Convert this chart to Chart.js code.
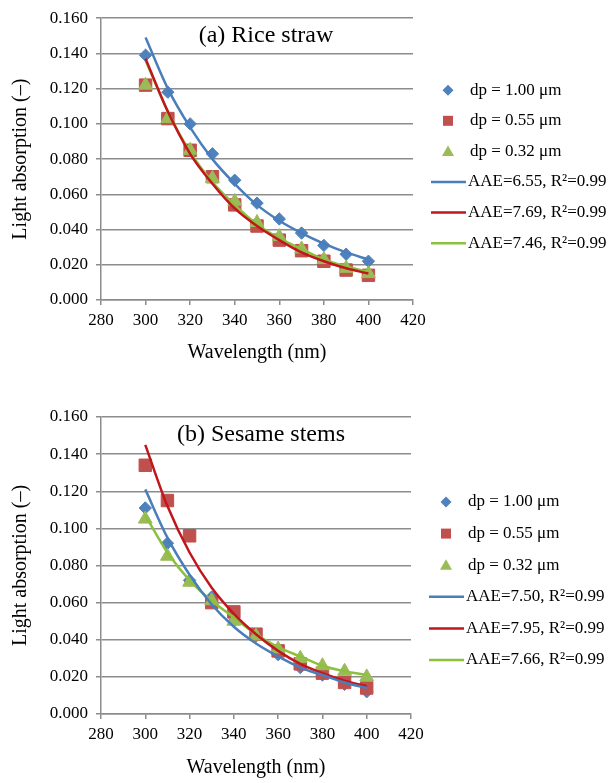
<!DOCTYPE html>
<html>
<head>
<meta charset="utf-8">
<script src="https://cdn.jsdelivr.net/npm/chart.js@4.4.1/dist/chart.umd.min.js"></script>
<style>
  html, body { margin: 0; padding: 0; background: #fff; }
  #wrap { position: relative; width: 613px; height: 783px; }
  canvas { position: absolute; left: 0; }
  #riceChart { top: 0; }
  #sesameChart { top: 390px; }
</style>
</head>
<body>
<div id="wrap">
  <canvas id="riceChart" width="613" height="390"></canvas>
  <canvas id="sesameChart" width="613" height="393"></canvas>
</div>
<script>
// wavelengths (nm)
const wavelengths = [300, 310, 320, 330, 340, 350, 360, 370, 380, 390, 400];
const xTicks = [280, 300, 320, 340, 360, 380, 400, 420];
const yTicks = [0, 0.02, 0.04, 0.06, 0.08, 0.10, 0.12, 0.14, 0.16];

const pointLabels = ['dp = 1.00 \u03bcm', 'dp = 0.55 \u03bcm', 'dp = 0.32 \u03bcm'];

// (a) Rice straw
const riceD100 = [0.139, 0.118, 0.100, 0.083, 0.068, 0.055, 0.046, 0.038, 0.031, 0.026, 0.022];
const riceD055 = [0.122, 0.103, 0.085, 0.070, 0.054, 0.042, 0.034, 0.028, 0.022, 0.017, 0.014];
const riceD032 = [0.122, 0.103, 0.085, 0.069, 0.056, 0.044, 0.036, 0.029, 0.023, 0.018, 0.015];
const riceFit100 = [0.149, 0.120, 0.098, 0.080, 0.066, 0.054, 0.045, 0.038, 0.032, 0.027, 0.023];
const riceFit055 = [0.137, 0.107, 0.083, 0.066, 0.052, 0.042, 0.034, 0.027, 0.022, 0.018, 0.015];
const riceFit032 = [0.136, 0.107, 0.084, 0.067, 0.054, 0.043, 0.035, 0.029, 0.023, 0.019, 0.016];
const riceFitLabels = ['AAE=6.55, R\u00b2=0.99', 'AAE=7.69, R\u00b2=0.99', 'AAE=7.46, R\u00b2=0.99'];

// (b) Sesame stems
const sesameD100 = [0.111, 0.092, 0.072, 0.063, 0.050, 0.042, 0.032, 0.025, 0.021, 0.016, 0.012];
const sesameD055 = [0.134, 0.115, 0.096, 0.060, 0.055, 0.043, 0.034, 0.027, 0.022, 0.017, 0.014];
const sesameD032 = [0.105, 0.085, 0.071, 0.061, 0.050, 0.042, 0.035, 0.030, 0.026, 0.023, 0.020];
const sesameFit100 = [0.121, 0.095, 0.075, 0.059, 0.047, 0.038, 0.031, 0.025, 0.021, 0.017, 0.014];
const sesameFit055 = [0.145, 0.112, 0.087, 0.068, 0.054, 0.043, 0.034, 0.027, 0.022, 0.018, 0.015];
const sesameFit032 = [0.107, 0.087, 0.072, 0.061, 0.052, 0.043, 0.036, 0.031, 0.026, 0.023, 0.021];
const sesameFitLabels = ['AAE=7.50, R\u00b2=0.99', 'AAE=7.95, R\u00b2=0.99', 'AAE=7.66, R\u00b2=0.99'];

const markerColors = ['#4F81BD', '#C0504D', '#9BBB59'];
const lineColors = ['#4A7EBB', '#C0171C', '#8DC03F'];
const markerStyles = ['rectRot', 'rect', 'triangle'];
const markerRadius = [6.2, 8.8, 8];
const markerOrder = [5, 4, 3];   // squares over diamonds, triangles over squares

const FONT = '"Liberation Serif", "Times New Roman", serif';
Chart.defaults.font.family = FONT;
Chart.defaults.color = '#000';

function toXY(values) {
  return values.map((v, i) => ({ x: wavelengths[i], y: v }));
}

// small legend drawn to the right of the plot
function drawMarker(ctx, style, x, y, color) {
  ctx.fillStyle = color;
  ctx.beginPath();
  if (style === 'rectRot') {
    ctx.moveTo(x, y - 5.5); ctx.lineTo(x + 5.5, y); ctx.lineTo(x, y + 5.5); ctx.lineTo(x - 5.5, y);
  } else if (style === 'rect') {
    ctx.rect(x - 5, y - 5, 10, 10);
  } else {
    ctx.moveTo(x, y - 6); ctx.lineTo(x + 6, y + 4.5); ctx.lineTo(x - 6, y + 4.5);
  }
  ctx.closePath();
  ctx.fill();
}

const sideLegend = {
  id: 'sideLegend',
  afterDraw(chart, args, opts) {
    const ctx = chart.ctx;
    const area = chart.chartArea;
    ctx.save();
    ctx.font = '17px ' + FONT;
    ctx.textBaseline = 'middle';
    chart.data.datasets.forEach((ds, i) => {
      const y = area.top + opts.top + i * opts.gap;
      if (ds.showLine === false) {
        drawMarker(ctx, ds.pointStyle, area.right + 35, y, ds.backgroundColor);
        ctx.fillStyle = '#000';
        ctx.fillText(ds.label, area.right + 57, y);
      } else {
        ctx.strokeStyle = ds.borderColor;
        ctx.lineWidth = 2.5;
        ctx.beginPath();
        ctx.moveTo(area.right + 18, y);
        ctx.lineTo(area.right + 53, y);
        ctx.stroke();
        ctx.fillStyle = '#000';
        ctx.fillText(ds.label, area.right + 55, y);
      }
    });
    ctx.restore();
  }
};

const panelTitle = {
  id: 'panelTitle',
  afterDraw(chart, args, opts) {
    const ctx = chart.ctx;
    const area = chart.chartArea;
    ctx.save();
    ctx.font = '24px ' + FONT;
    ctx.fillStyle = '#000';
    ctx.textAlign = 'center';
    ctx.textBaseline = 'middle';
    ctx.fillText(opts.text, area.left + opts.dx, area.top + opts.dy);
    ctx.restore();
  }
};

function makeChart(id, title, points, fits, fitLabels, pad, xHeight, legendTop, legendGap, titleDx) {
  const datasets = [];
  points.forEach((vals, i) => {
    datasets.push({
      label: pointLabels[i],
      data: toXY(vals),
      showLine: false,
      pointStyle: markerStyles[i],
      pointRadius: markerRadius[i],
      pointHoverRadius: markerRadius[i],
      backgroundColor: markerColors[i],
      borderColor: markerColors[i],
      pointBorderWidth: 1,
      order: markerOrder[i]
    });
  });
  fits.forEach((vals, i) => {
    datasets.push({
      label: fitLabels[i],
      data: toXY(vals),
      showLine: true,
      pointRadius: 0,
      borderColor: lineColors[i],
      backgroundColor: lineColors[i],
      borderWidth: 2.5,
      cubicInterpolationMode: 'monotone',
      order: 1
    });
  });

  return new Chart(document.getElementById(id).getContext('2d'), {
    type: 'scatter',
    data: { datasets: datasets },
    options: {
      responsive: false,
      animation: false,
      layout: { padding: pad },
      plugins: {
        legend: { display: false },
        tooltip: { enabled: false },
        sideLegend: { top: legendTop, gap: legendGap },
        panelTitle: { text: title, dx: titleDx, dy: 18 }
      },
      scales: {
        x: {
          type: 'linear',
          min: 280,
          max: 420,
          afterBuildTicks: (scale) => { scale.ticks = xTicks.map(v => ({ value: v })); },
          afterFit: (scale) => { scale.height = xHeight; },
          ticks: { font: { size: 17 }, padding: 5, maxRotation: 0 },
          grid: { drawOnChartArea: false, drawTicks: true, tickLength: 5, color: '#8c8c8c', lineWidth: 1.5 },
          border: { color: '#8c8c8c', width: 1.5 },
          title: { display: true, text: 'Wavelength (nm)', font: { size: 20 }, padding: { top: 0, bottom: 0 } }
        },
        y: {
          min: 0,
          max: 0.16,
          afterBuildTicks: (scale) => { scale.ticks = yTicks.map(v => ({ value: v })); },
          afterFit: (scale) => { scale.width = 101; },
          ticks: { font: { size: 17 }, padding: 8, callback: (v) => v.toFixed(3) },
          grid: { drawTicks: true, tickLength: 5, color: '#8c8c8c', lineWidth: 1.5 },
          border: { color: '#8c8c8c', width: 1.5 },
          title: { display: true, text: 'Light absorption (\u2013)', font: { size: 20 }, padding: { top: 9, bottom: 0 } }
        }
      }
    },
    plugins: [sideLegend, panelTitle]
  });
}

window.onload = () => {
  makeChart('riceChart', '(a) Rice straw',
    [riceD100, riceD055, riceD032], [riceFit100, riceFit055, riceFit032], riceFitLabels,
    { left: 0, right: 200, top: 13, bottom: 25 }, 65, 72, 30.6, 165);
  makeChart('sesameChart', '(b) Sesame stems',
    [sesameD100, sesameD055, sesameD032], [sesameFit100, sesameFit055, sesameFit032], sesameFitLabels,
    { left: 0, right: 202, top: 27, bottom: 3 }, 66, 85, 31.6, 160);
};
</script>
</body>
</html>
